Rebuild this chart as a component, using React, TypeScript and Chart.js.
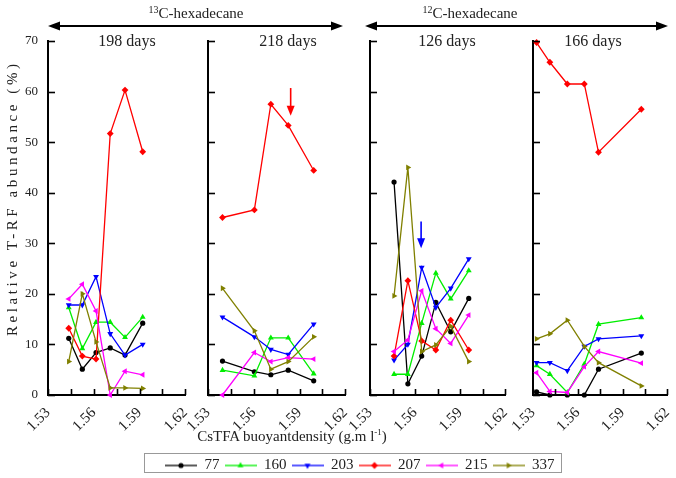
import React, { useEffect, useRef } from 'react';
import { Chart, registerables } from 'chart.js';

Chart.register(...registerables);

// ---------- data ----------
const SERIES_LABELS = ['77', '160', '203', '207', '215', '337'];
const SERIES_COLORS = ['#000000', '#00ee00', '#0000ff', '#ff0000', '#ff00ff', '#808000'];
const POINT_STYLES = ['circle', 'triangle', 'triangle', 'rectRot', 'triangle', 'triangle'];
const POINT_ROT = [0, 0, 180, 0, 270, 90];

const X_TICKS = [1.53, 1.545, 1.56, 1.575, 1.59, 1.605, 1.62];
const X_TICK_LABELS = ['1.53', '', '1.56', '', '1.59', '', '1.62'];
const Y_TICKS = [0, 10, 20, 30, 40, 50, 60, 70];
const Y_TICK_LABELS = ['0', '10', '20', '30', '40', '50', '60', '70'];

// 13C-hexadecane, 198 days
const D198 = [1.5436, 1.5525, 1.5615, 1.5708, 1.5805, 1.5921];
const D198_77 = [11.2, 5.1, 8.4, 9.3, 7.9, 14.2];
const D198_160 = [17.3, 9.2, 14.4, 14.4, 11.4, 15.4];
const D198_203 = [17.8, 17.8, 23.4, 12.1, 7.9, 10.0];
const D198_207 = [13.2, 7.7, 7.1, 51.7, 60.3, 48.1];
const D198_215 = [19.0, 21.9, 16.6, 0, 4.7, 4.0];
const D198_337 = [6.6, 20.0, 10.5, 1.4, 1.4, 1.3];

// 13C-hexadecane, 218 days
const D218 = [1.5395, 1.5604, 1.5712, 1.5826, 1.5993];
const D218_77 = [6.7, 4.6, 4.0, 4.9, 2.8];
const D218_160 = [4.9, 3.8, 11.3, 11.3, 4.2];
const D218_203 = [15.4, 11.5, 9.0, 8.0, 14.0];
const D218_207 = [35.1, 36.6, 57.5, 53.3, 44.4];
const D218_215 = [0, 8.4, 6.6, 7.4, 7.1];
const D218_337 = [21.1, 12.7, 5.1, 6.6, 11.5];

// 12C-hexadecane, 126 days
const D126 = [1.546, 1.5552, 1.5644, 1.5738, 1.5837, 1.5957];
const D126_77 = [42.1, 2.2, 7.7, 18.3, 12.5, 19.1];
const D126_160 = [4.1, 4.1, 14.2, 24.1, 19.0, 24.6];
const D126_203 = [6.9, 10.0, 25.2, 17.3, 21.1, 26.9];
const D126_207 = [7.7, 22.6, 10.7, 8.9, 14.8, 8.9];
const D126_215 = [8.6, 10.9, 20.6, 13.1, 10.2, 15.8];
const D126_337 = [19.6, 45.0, 8.6, 9.9, 13.6, 6.6];

// 12C-hexadecane, 166 days
const D166 = [1.5324, 1.5413, 1.553, 1.5644, 1.5739, 1.6026];
const D166_77 = [0.6, 0, 0, 0, 5.1, 8.3];
const D166_160 = [5.8, 4.1, 0.5, 6.1, 14.0, 15.3];
const D166_203 = [6.4, 6.4, 4.8, 9.6, 11.1, 11.7];
const D166_207 = [69.7, 65.8, 61.5, 61.5, 48.0, 56.5];
const D166_215 = [4.4, 0.7, 0.5, 5.6, 8.6, 6.3];
const D166_337 = [11.1, 12.1, 14.8, 9.6, 6.4, 1.8];

// highlighted T-RF arrows: [density, from, to]
const ARROW_218 = [1.5842, 60.7, 55.2];
const ARROW_126 = [1.564, 34.3, 29.0];

const PANEL_TITLES = ['198 days', '218 days', '126 days', '166 days'];

const PANELS = [
  { x: D198, values: [D198_77, D198_160, D198_203, D198_207, D198_215, D198_337], arrow: null as number[] | null, arrowColor: '' },
  { x: D218, values: [D218_77, D218_160, D218_203, D218_207, D218_215, D218_337], arrow: ARROW_218, arrowColor: '#ff0000' },
  { x: D126, values: [D126_77, D126_160, D126_203, D126_207, D126_215, D126_337], arrow: ARROW_126, arrowColor: '#0000ff' },
  { x: D166, values: [D166_77, D166_160, D166_203, D166_207, D166_215, D166_337], arrow: null as number[] | null, arrowColor: '' },
];

// ---------- layout ----------
const W = 676;
const H = 478;
const PLOT_TOP = 41;
const PLOT_BOTTOM = 395;
const PANEL_LEFT = [48, 208, 370, 533];
const PANEL_RIGHT = [187, 347, 507, 669];
const LEFT_EXT = 48;
const RIGHT_EXT = 20;
const TITLE_X = [127, 288, 447, 593];
const FONT = "'Liberation Serif', 'DejaVu Serif', serif";
const TEXT = '#222';

function drawMarker(g: CanvasRenderingContext2D, cx: number, cy: number, style: string, rot: number, r: number) {
  g.beginPath();
  if (style === 'circle') {
    g.arc(cx, cy, r, 0, Math.PI * 2);
  } else if (style === 'rectRot') {
    g.moveTo(cx, cy - r);
    g.lineTo(cx + r, cy);
    g.lineTo(cx, cy + r);
    g.lineTo(cx - r, cy);
  } else {
    for (let k = 0; k < 3; k++) {
      const a = ((rot - 90 + k * 120) * Math.PI) / 180;
      const px = cx + r * Math.cos(a);
      const py = cy + r * Math.sin(a);
      if (k === 0) g.moveTo(px, py);
      else g.lineTo(px, py);
    }
  }
  g.closePath();
  g.fill();
}

function legendImage(i: number) {
  const c = document.createElement('canvas');
  c.width = 32;
  c.height = 10;
  const g = c.getContext('2d')!;
  g.strokeStyle = SERIES_COLORS[i];
  g.fillStyle = SERIES_COLORS[i];
  g.lineWidth = 1.3;
  g.beginPath();
  g.moveTo(0, 5);
  g.lineTo(32, 5);
  g.stroke();
  drawMarker(g, 16, 5, POINT_STYLES[i], POINT_ROT[i], POINT_STYLES[i] === 'circle' ? 2.6 : 3.4);
  return c;
}

const innerTicks = {
  id: 'innerTicks',
  afterDatasetsDraw(chart: any) {
    const { ctx, chartArea, scales } = chart;
    const xs = scales.x;
    const ys = scales.y;
    ctx.save();
    ctx.strokeStyle = '#000';
    ctx.lineWidth = 1.6;
    xs.ticks.forEach((t: any) => {
      const px = Math.round(xs.getPixelForValue(t.value)) + 0.5;
      ctx.beginPath();
      ctx.moveTo(px, chartArea.bottom);
      ctx.lineTo(px, chartArea.bottom - 6);
      ctx.stroke();
    });
    ys.ticks.forEach((t: any) => {
      const py = Math.round(ys.getPixelForValue(t.value)) + 0.5;
      ctx.beginPath();
      ctx.moveTo(chartArea.left, py);
      ctx.lineTo(chartArea.left + 7, py);
      ctx.stroke();
    });
    ctx.restore();
  },
};

const arrowPlugin = {
  id: 'arrowMark',
  afterDatasetsDraw(chart: any, _args: any, opts: any) {
    if (!opts || !opts.arrow) return;
    const { ctx, scales } = chart;
    const [xv, y0, y1] = opts.arrow;
    const px = scales.x.getPixelForValue(xv);
    const pa = scales.y.getPixelForValue(y0);
    const pb = scales.y.getPixelForValue(y1);
    ctx.save();
    ctx.strokeStyle = opts.color;
    ctx.fillStyle = opts.color;
    ctx.lineWidth = 1.6;
    ctx.beginPath();
    ctx.moveTo(px, pa);
    ctx.lineTo(px, pb - 8);
    ctx.stroke();
    ctx.beginPath();
    ctx.moveTo(px, pb);
    ctx.lineTo(px - 4, pb - 10);
    ctx.lineTo(px + 4, pb - 10);
    ctx.closePath();
    ctx.fill();
    ctx.restore();
  },
};

function Panel({ idx }: { idx: number }) {
  const ref = useRef<HTMLCanvasElement>(null);
  const cw = PANEL_RIGHT[idx] - PANEL_LEFT[idx] + LEFT_EXT + RIGHT_EXT;
  useEffect(() => {
    const p = PANELS[idx];
    const chart = new Chart(ref.current!, {
      type: 'line',
      data: {
        datasets: p.values.map((vals, i) => ({
          label: SERIES_LABELS[i],
          data: p.x.map((x, j) => ({ x, y: vals[j] })),
          borderColor: SERIES_COLORS[i],
          backgroundColor: SERIES_COLORS[i],
          borderWidth: 1.3,
          pointStyle: POINT_STYLES[i] as any,
          pointRotation: POINT_ROT[i],
          pointRadius: POINT_STYLES[i] === 'circle' ? 2.6 : 3.4,
          pointBorderWidth: 0,
          clip: false as any,
          order: 5 - i,
          tension: 0,
        })),
      },
      options: {
        responsive: false,
        animation: false,
        events: [],
        layout: { padding: { left: 0, right: RIGHT_EXT, top: PLOT_TOP, bottom: 0 } },
        plugins: {
          legend: { display: false },
          tooltip: { enabled: false },
          arrowMark: { arrow: p.arrow, color: p.arrowColor },
        } as any,
        scales: {
          x: {
            type: 'linear',
            min: 1.53,
            max: 1.62,
            afterBuildTicks: (s: any) => {
              s.ticks = X_TICKS.map((v) => ({ value: v }));
            },
            afterFit: (s: any) => {
              s.height = H - PLOT_BOTTOM;
            },
            grid: { display: false, drawTicks: false },
            border: { display: true, color: '#000', width: 2 },
            ticks: {
              autoSkip: false,
              minRotation: 45,
              maxRotation: 45,
              padding: 9,
              color: TEXT,
              font: { family: FONT, size: 15 },
              callback: (_v: any, i: number) => X_TICK_LABELS[i],
            },
          },
          y: {
            type: 'linear',
            min: 0,
            max: 70,
            afterBuildTicks: (s: any) => {
              s.ticks = Y_TICKS.map((v) => ({ value: v }));
            },
            afterFit: (s: any) => {
              s.width = LEFT_EXT;
            },
            grid: { display: false, drawTicks: false },
            border: { display: true, color: '#000', width: 2 },
            ticks: {
              display: idx === 0,
              padding: 10,
              color: TEXT,
              font: { family: FONT, size: 13 },
              callback: (_v: any, i: number) => Y_TICK_LABELS[i],
            },
          },
        },
      },
      plugins: [innerTicks, arrowPlugin],
    });
    return () => chart.destroy();
  }, [idx]);
  return (
    <canvas
      ref={ref}
      width={cw}
      height={H}
      style={{ position: 'absolute', left: PANEL_LEFT[idx] - LEFT_EXT, top: 0, width: cw, height: H }}
    />
  );
}

function LegendChart() {
  const ref = useRef<HTMLCanvasElement>(null);
  useEffect(() => {
    const images = SERIES_LABELS.map((_, i) => legendImage(i));
    const chart = new Chart(ref.current!, {
      type: 'line',
      data: {
        datasets: SERIES_LABELS.map((l, i) => ({
          label: l,
          data: [],
          borderColor: SERIES_COLORS[i],
          backgroundColor: SERIES_COLORS[i],
        })),
      },
      options: {
        responsive: false,
        animation: false,
        events: [],
        layout: { padding: 0 },
        scales: { x: { display: false }, y: { display: false } },
        plugins: {
          tooltip: { enabled: false },
          legend: {
            display: true,
            position: 'top',
            align: 'start',
            labels: {
              usePointStyle: true,
              pointStyleWidth: 32,
              padding: 5,
              color: TEXT,
              font: { family: FONT, size: 15 },
              generateLabels: () =>
                SERIES_LABELS.map((l, i) => ({
                  text: l,
                  pointStyle: images[i] as any,
                  fillStyle: SERIES_COLORS[i],
                  strokeStyle: SERIES_COLORS[i],
                  lineWidth: 0,
                  hidden: false,
                  datasetIndex: i,
                  fontColor: TEXT,
                })),
            },
          },
        },
      },
    });
    return () => chart.destroy();
  }, []);
  return (
    <canvas
      ref={ref}
      width={400}
      height={50}
      style={{ position: 'absolute', left: 160, top: 453, width: 400, height: 50 }}
    />
  );
}

function Overlay() {
  const arrow = (x1: number, x2: number, y: number) => (
    <g>
      <line x1={x1 + 8} y1={y} x2={x2 - 8} y2={y} stroke="#000" strokeWidth={2} />
      <polygon points={`${x1},${y} ${x1 + 12},${y - 4.5} ${x1 + 12},${y + 4.5}`} fill="#000" />
      <polygon points={`${x2},${y} ${x2 - 12},${y - 4.5} ${x2 - 12},${y + 4.5}`} fill="#000" />
    </g>
  );
  return (
    <svg
      width={W}
      height={H}
      style={{ position: 'absolute', left: 0, top: 0, pointerEvents: 'none' }}
      fontFamily={FONT}
      fill={TEXT}
    >
      <text x={196} y={18} textAnchor="middle" fontSize={15}>
        <tspan fontSize={10} dy={-5}>13</tspan>
        <tspan dy={5}>C-hexadecane</tspan>
      </text>
      {arrow(48, 343, 26)}
      <text x={470} y={18} textAnchor="middle" fontSize={15}>
        <tspan fontSize={10} dy={-5}>12</tspan>
        <tspan dy={5}>C-hexadecane</tspan>
      </text>
      {arrow(365, 668, 26)}
      {PANEL_TITLES.map((t, i) => (
        <text key={t} x={TITLE_X[i]} y={46} textAnchor="middle" fontSize={16}>
          {t}
        </text>
      ))}
      <text
        x={0}
        y={0}
        transform="translate(17,200) rotate(-90)"
        textAnchor="middle"
        fontSize={15}
        textLength={272}
        lengthAdjust="spacing"
      >
        Relative T-RF abundance (%)
      </text>
      <text x={292} y={441} textAnchor="middle" fontSize={15}>
        CsTFA buoyantdensity (g.m l<tspan fontSize={9} dy={-6}>-1</tspan>
        <tspan dy={6}>)</tspan>
      </text>
    </svg>
  );
}

export default function App() {
  return (
    <div
      style={{
        position: 'fixed',
        left: 0,
        top: 0,
        width: W,
        height: H,
        overflow: 'hidden',
        background: '#fff',
      }}
    >
      {[0, 1, 2, 3].map((i) => (
        <Panel key={i} idx={i} />
      ))}
      <div
        style={{
          position: 'absolute',
          left: 144,
          top: 453,
          width: 418,
          height: 20,
          border: '1px solid #999',
          boxSizing: 'border-box',
        }}
      />
      <LegendChart />
      <Overlay />
    </div>
  );
}
